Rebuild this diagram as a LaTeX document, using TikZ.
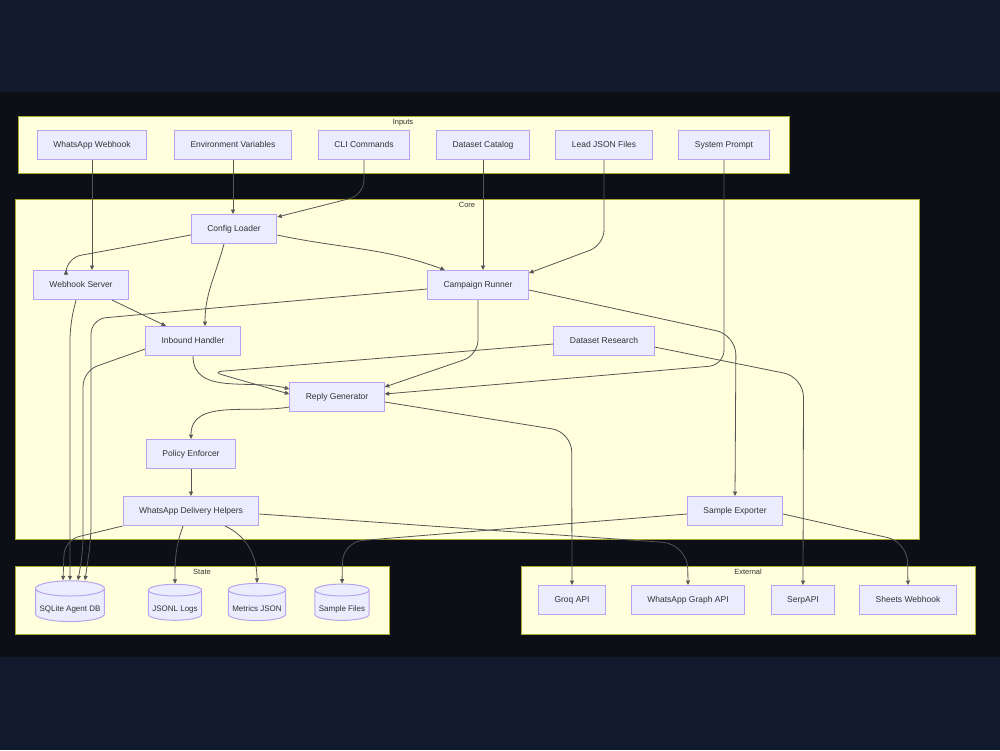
\documentclass[tikz,border=0pt]{standalone}
\usepackage{fontspec}
\setmainfont{Liberation Sans}
\usetikzlibrary{arrows.meta,positioning,shapes.geometric}
\definecolor{pagebg}{HTML}{111A2C}
\definecolor{canvasbg}{HTML}{0C0F16}
\definecolor{groupfill}{HTML}{FFFFDE}
\definecolor{groupline}{HTML}{AAAA33}
\definecolor{boxfill}{HTML}{ECECFF}
\definecolor{boxline}{HTML}{B8A4EE}
\definecolor{wire}{HTML}{555555}
\definecolor{ink}{HTML}{333333}

\begin{document}
\begin{tikzpicture}[
    x=1pt,y=1pt,
    comp/.style={draw=boxline,fill=boxfill,line width=1pt,minimum height=29pt,inner xsep=16pt,text height=6pt,text depth=1.8pt,font=\fontsize{8.5}{10}\selectfont,text=ink},
    store/.style={cylinder,shape border rotate=90,aspect=0.22,draw=boxline,fill=boxfill,line width=1pt,inner xsep=4pt,inner ysep=4.25pt,text height=10.5pt,text depth=2pt,font=\fontsize{8}{10}\selectfont,text=ink},
    group/.style={draw=groupline,fill=groupfill,line width=1pt},
    grouplabel/.style={anchor=north,inner sep=1pt,font=\fontsize{7.5}{9}\selectfont,text=ink},
    link/.style={-{Triangle[length=4.5pt,width=4pt]},draw=wire,line width=0.8pt,rounded corners=15pt}
]
\fill[pagebg] (0,0) rectangle (1000,-750);
\fill[canvasbg] (0,-92) rectangle (1000,-657);

% clusters
\draw[group] (18,-116) rectangle (789,-173);
\node[grouplabel] (inputslbl) at (403,-118) {Inputs};
\draw[group] (15,-199) rectangle (919,-539);
\node[grouplabel] (corelbl) at (467,-201) {Core};
\draw[group] (15,-566) rectangle (389,-634);
\node[grouplabel] (statelbl) at (202,-568) {State};
\draw[group] (521,-566) rectangle (975,-634);
\node[grouplabel] (extlbl) at (748,-568) {External};

% inputs
\node[comp] (ww) at (92,-145) {WhatsApp Webhook};
\node[comp] (ev) at (233,-145) {Environment Variables};
\node[comp] (cli) at (364,-145) {CLI Commands};
\node[comp] (dc) at (483,-145) {Dataset Catalog};
\node[comp] (lj) at (604,-145) {Lead JSON Files};
\node[comp] (sp) at (724,-145) {System Prompt};

% core
\node[comp] (cl) at (234,-229) {Config Loader};
\node[comp] (ws) at (81,-285) {Webhook Server};
\node[comp] (cr) at (478,-285) {Campaign Runner};
\node[comp] (ih) at (193,-341) {Inbound Handler};
\node[comp] (dr) at (604,-341) {Dataset Research};
\node[comp] (rg) at (337,-397) {Reply Generator};
\node[comp] (pe) at (191,-454) {Policy Enforcer};
\node[comp] (wdh) at (191,-511) {WhatsApp Delivery Helpers};
\node[comp] (se) at (735,-511) {Sample Exporter};

% state
\node[store] (db) at (70,-607) {SQLite Agent DB};
\node[store] (logs) at (175,-607) {JSONL Logs};
\node[store] (met) at (257,-607) {Metrics JSON};
\node[store] (sfiles) at (342,-607) {Sample Files};

% external
\node[comp] (groq) at (572,-600) {Groq API};
\node[comp] (wga) at (688,-600) {WhatsApp Graph API};
\node[comp] (serp) at (803,-600) {SerpAPI};
\node[comp] (sheets) at (908,-600) {Sheets Webhook};

\draw[link] (ww.south) -- (ww.south |- ws.north);
\draw[link] (ev.south) -- (ev.south |- cl.north);
\draw[link] (cli.south) -- ++(0,-35) -- ([yshift=-3pt]cl.north east);
\draw[link] (dc.south) -- (dc.south |- cr.north);
\draw[link] (lj.south) -- ++(0,-85) -- ([yshift=-3pt]cr.north east);
\draw[link] (sp.south) -- ++(0,-205) -- ([yshift=3pt]rg.east);

\draw[link] ([yshift=-6pt]cl.west) -- ([xshift=-15pt,yshift=12pt]ws.north) -- ([xshift=-15pt]ws.north);
\draw[link] ([xshift=-10pt]cl.south) to[out=-105,in=90] ([xshift=12pt]ih.north);
\draw[link] ([yshift=-6pt]cl.east) to[out=-12,in=160] ([xshift=-33pt]cr.north);

\draw[link] ([xshift=31pt]ws.south) -- ([xshift=-27pt]ih.north);
\draw[link] ([xshift=-5pt]ws.south) -- ++(-6,-25) -- (db.north);
\draw[link] ([yshift=-8pt]ih.west) -- ++(-62,-22) -- ++(0,-180) -- ([xshift=8pt]db.north);
\draw[link] ([yshift=-4pt]cr.west) -- ++(-336,-30) -- ++(0,-220) -- ([xshift=15pt]db.north);
\draw[link] (wdh.south west) -- ++(-58,-14) -- ([xshift=-7pt]db.north);

\draw[link] (cr.south) -- ++(0,-55) -- ([yshift=10pt]rg.east);
\draw[link,rounded corners=20pt] ([yshift=-5pt]cr.east) -- ++(207,-45) -- (se.north);
\draw[link] (ih.south) to[out=-90,in=165] ([yshift=8pt]rg.west);
\draw[link,rounded corners=10pt] ([yshift=-3pt]dr.west) -- ++(-341,-28) -- ([yshift=3pt]rg.west);
\draw[link,rounded corners=20pt] ([yshift=-6pt]dr.east) -- ++(149,-30) -- (serp.north);

\draw[link] ([yshift=-10pt]rg.west) to[out=190,in=90] (pe.north);
\draw[link,rounded corners=20pt] ([yshift=-5pt]rg.east) -- ++(187,-30) -- (groq.north);
\draw[link] (pe.south) -- (wdh.north);

\draw[link] ([xshift=-8pt]wdh.south) to[out=-110,in=90] (logs.north);
\draw[link] ([xshift=34pt]wdh.south) to[out=-25,in=90] (met.north);
\draw[link,rounded corners=25pt] ([yshift=-3pt]wdh.east) -- ++(428,-30) -- (wga.north);
\draw[link,rounded corners=20pt] ([yshift=-3pt]se.west) -- ++(-344,-28) -- (sfiles.north);
\draw[link,rounded corners=20pt] ([yshift=-3pt]se.east) -- ++(124,-28) -- (sheets.north);
\end{tikzpicture}
\end{document}
